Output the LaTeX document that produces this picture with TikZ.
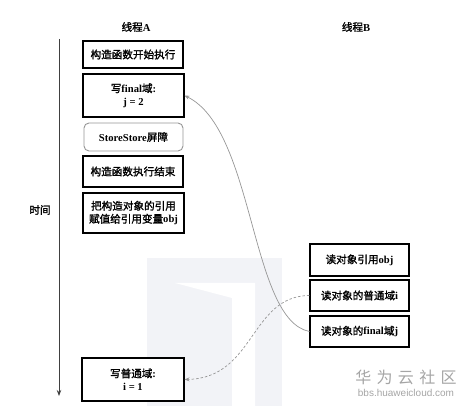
\documentclass[tikz,border=0pt]{standalone}
\usepackage{fontspec}
\setmainfont{Liberation Serif}
\newfontfamily\cjkfont{Noto Sans CJK SC}[AutoFakeBold=1.5]
\newfontfamily\wmfont{Liberation Sans}
\usetikzlibrary{arrows.meta}
\newcommand\zh[1]{{\cjkfont #1}}
\definecolor{logogray}{RGB}{242,243,247}
\definecolor{wmgray}{RGB}{165,165,165}
\definecolor{curvegray}{RGB}{150,150,150}
\begin{document}
\begin{tikzpicture}[x=1pt,y=-1pt,
  box/.style={draw=black,line width=1.1pt,fill=white,align=center,inner sep=1pt,
    font=\fontsize{10.6}{13}\selectfont\bfseries},
  rbox/.style={box,draw=curvegray,rounded corners=5pt,line width=0.9pt},
  lbl/.style={font=\fontsize{10.6}{12}\selectfont\bfseries},
  link/.style={draw=curvegray,line width=0.7pt,-{Stealth[length=5pt,width=4pt]}}]
\useasboundingbox (0,0) rectangle (475,406);
% watermark logo
\fill[logogray] (147,258) rectangle (282,406);
\fill[white] (175,283) -- (255,283) -- (255,406) -- (232,406) -- (232,298) -- cycle;
% titles
\node[lbl] (ta) at (136,27) {\zh{线程}A};
\node[lbl] (tb) at (356,27) {\zh{线程}B};
\node[lbl] (tt) at (40,210) {\zh{时间}};
% time axis
\coordinate (axs) at (59,39);
\coordinate (axe) at (59,396);
\draw[line width=0.9pt,draw=black!75,-{Stealth[length=6pt,width=4.5pt]}] (axs) -- (axe);
% thread A
\node[box,minimum width=100pt,minimum height=27pt] (a1) at (133,54.5) {\zh{构造函数开始执行}};
\node[box,minimum width=101pt,minimum height=43pt] (a2) at (133.5,95.5) {\zh{写}final\zh{域}:\\ j = 2};
\node[rbox,minimum width=99pt,minimum height=28pt] (a3) at (133.5,137) {StoreStore\zh{屏障}};
\node[box,minimum width=100pt,minimum height=31pt] (a4) at (133,171.5) {\zh{构造函数执行结束}};
\node[box,minimum width=101pt,minimum height=40pt] (a5) at (133.5,213) {\zh{把构造对象的引用}\\\zh{赋值给引用变量}obj};
\node[box,minimum width=102pt,minimum height=43pt] (a6) at (133,379.5) {\zh{写普通域}:\\ i = 1};
% thread B
\node[box,minimum width=99pt,minimum height=32pt] (b1) at (359.5,260) {\zh{读对象引用}obj};
\node[box,minimum width=99pt,minimum height=31pt] (b2) at (359.5,295.5) {\zh{读对象的普通域}i};
\node[box,minimum width=99pt,minimum height=31pt] (b3) at (359.5,331.5) {\zh{读对象的}final\zh{域}j};
% connectors
\draw[link] (b3.west) .. controls (250,320) and (255,130) .. (a2.east);
\draw[link,dashed,dash pattern=on 2.5pt off 2pt] (b2.west) .. controls (250,296) and (255,378) .. (a6.east);
% watermark text
\node[text=wmgray,font=\cjkfont\fontsize{16}{18}\selectfont] (wm1) at (406,377) {华\,\,为\,\,云\,\,社\,\,区};
\node[text=wmgray,font=\wmfont\fontsize{10}{12}\selectfont] (wm2) at (406,393) {bbs.huaweicloud.com};
\end{tikzpicture}
\end{document}
